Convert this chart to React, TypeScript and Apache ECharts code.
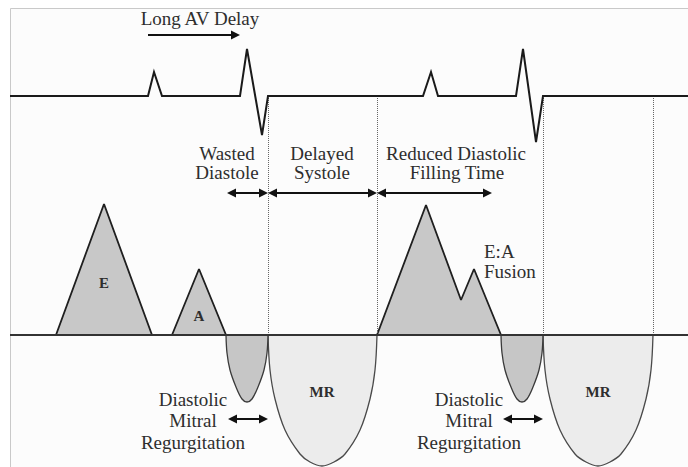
import React, { useEffect, useRef } from "react";
import * as echarts from "echarts";

// ECG trace (x, y in diagram units; y grows downward)
const ecgTrace: [number, number][] = [
  [10, 96], [148, 96], [154, 72], [162, 96], [240, 96], [247, 49], [262, 135], [268, 96],
  [423, 96], [431, 72], [438, 96], [516, 96], [523, 49], [536, 142], [543, 96], [688, 96],
];
const dopplerBaseline: [number, number][] = [[10, 335], [688, 335]];
const baselineLevel = 335;

// Doppler mitral inflow waves
const eWave: [number, number][] = [[56, 335], [104, 204], [152, 335]];
const aWave: [number, number][] = [[172, 335], [199, 269], [226, 335]];
const eaFusion: [number, number][] = [[377, 335], [426, 205], [461, 300], [474, 269], [501, 335]];

// Regurgitant jets (below baseline)
const diastolicMR1: [number, number][] = [
  [226, 335], [227, 353], [230, 370], [236, 387], [242, 399], [247, 402], [252, 399], [258, 387], [264, 370], [267, 353], [268, 335],
];
const systolicMR1: [number, number][] = [
  [268, 335], [270, 370], [275, 399], [285, 430], [300, 454], [310, 462], [322, 466], [334, 462], [345, 454], [360, 430], [370, 399], [375, 370], [377, 335],
];
const diastolicMR2: [number, number][] = [
  [501, 335], [502, 353], [505, 370], [511, 387], [517, 399], [522, 402], [527, 399], [533, 387], [539, 370], [542, 353], [543, 335],
];
const systolicMR2: [number, number][] = [
  [543, 335], [545, 370], [550, 399], [560, 430], [575, 454], [586, 462], [598, 466], [610, 462], [621, 454], [636, 430], [646, 399], [651, 370], [653, 335],
];

// Timing markers (dotted verticals between the two baselines)
const timingMarkers = [268, 377, 543, 653];
const markerTop = 96;
const markerBottom = 335;

// Interval arrows: [x1, x2, y, double-headed]
const intervalArrows: [number, number, number, boolean][] = [
  [148, 240, 35, false],
  [227, 268, 193, true],
  [268, 377, 193, true],
  [377, 492, 193, true],
  [228, 268, 419, true],
  [503, 543, 419, true],
];

// Text annotations
const annotations: { text: string; x: number; y: number; align: string }[] = [
  { text: "Long AV Delay", x: 200, y: 18, align: "center" },
  { text: "Wasted", x: 227, y: 153, align: "center" },
  { text: "Diastole", x: 227, y: 172, align: "center" },
  { text: "Delayed", x: 322, y: 153, align: "center" },
  { text: "Systole", x: 322, y: 172, align: "center" },
  { text: "Reduced Diastolic", x: 456, y: 153, align: "center" },
  { text: "Filling Time", x: 457, y: 172, align: "center" },
  { text: "E:A", x: 484, y: 251, align: "left" },
  { text: "Fusion", x: 484, y: 271, align: "left" },
  { text: "Diastolic", x: 193, y: 399, align: "center" },
  { text: "Mitral", x: 193, y: 420, align: "center" },
  { text: "Regurgitation", x: 193, y: 442, align: "center" },
  { text: "Diastolic", x: 469, y: 399, align: "center" },
  { text: "Mitral", x: 469, y: 420, align: "center" },
  { text: "Regurgitation", x: 469, y: 442, align: "center" },
];
const waveLabels: { text: string; x: number; y: number }[] = [
  { text: "E", x: 104, y: 283 },
  { text: "A", x: 199, y: 316 },
  { text: "MR", x: 322, y: 392 },
  { text: "MR", x: 598, y: 392 },
];

const SERIF = '"Liberation Serif", "DejaVu Serif", serif';

export default function App() {
  const ref = useRef<HTMLDivElement>(null);

  useEffect(() => {
    if (!ref.current) return;
    const chart = echarts.init(ref.current, null, { renderer: "svg" });

    const shape = (data: [number, number][], fill: string, stroke: string, width: number, smooth: boolean, z: number) => ({
      type: "line",
      data,
      smooth: smooth ? 0.35 : false,
      showSymbol: false,
      symbol: "none",
      z,
      lineStyle: { color: stroke, width },
      areaStyle: { color: fill, opacity: 1, origin: baselineLevel },
      silent: true,
    });

    const head = 4.5;
    const arrowData = intervalArrows.map(([x1, x2, y, dbl]) => [
      { coord: [dbl ? x1 + head : x1, y], symbol: dbl ? "triangle" : "none" },
      { coord: [x2 - head, y], symbol: "triangle" },
    ]);

    const markerData = timingMarkers.map((x) => [
      { coord: [x, markerTop] },
      { coord: [x, markerBottom] },
    ]);

    const graphics: any[] = [
      {
        type: "rect",
        z: -10,
        shape: { x: 10.5, y: 8.5, width: 720, height: 500 },
        style: { fill: "#fcfcfc", stroke: "#c9c9c9", lineWidth: 1 },
        silent: true,
      },
      ...annotations.map((a) => ({
        type: "text",
        z: 50,
        silent: true,
        style: {
          text: a.text,
          x: a.x,
          y: a.y,
          font: `19px ${SERIF}`,
          fill: "#2e2e2e",
          align: a.align,
          textAlign: a.align,
          verticalAlign: "middle",
          textVerticalAlign: "middle",
        },
      })),
      ...waveLabels.map((a) => ({
        type: "text",
        z: 50,
        silent: true,
        style: {
          text: a.text,
          x: a.x,
          y: a.y,
          font: `bold 15px ${SERIF}`,
          fill: "#2e2e2e",
          align: "center",
          textAlign: "center",
          verticalAlign: "middle",
          textVerticalAlign: "middle",
        },
      })),
    ];

    chart.setOption({
      animation: false,
      backgroundColor: "#ffffff",
      grid: { left: 0, right: 0, top: 0, bottom: 0, containLabel: false },
      xAxis: { type: "value", min: 0, max: 688, show: false },
      yAxis: { type: "value", min: 0, max: 467, inverse: true, show: false },
      graphic: graphics,
      series: [
        shape(systolicMR1, "#ececec", "#4a4a4a", 1.3, true, 3),
        shape(systolicMR2, "#ececec", "#4a4a4a", 1.3, true, 3),
        shape(diastolicMR1, "#c6c6c6", "#3a3a3a", 1.3, true, 4),
        shape(diastolicMR2, "#c6c6c6", "#3a3a3a", 1.3, true, 4),
        shape(eWave, "#c8c8c8", "#1f1f1f", 1.8, false, 4),
        shape(aWave, "#c8c8c8", "#1f1f1f", 1.8, false, 4),
        shape(eaFusion, "#c8c8c8", "#1f1f1f", 1.8, false, 4),
        {
          type: "line",
          data: dopplerBaseline,
          symbol: "none",
          z: 6,
          silent: true,
          lineStyle: { color: "#333333", width: 2 },
          markLine: {
            silent: true,
            animation: false,
            symbol: ["none", "none"],
            label: { show: false },
            lineStyle: { color: "#666666", width: 1, type: "dotted" },
            data: markerData,
          },
        },
        {
          type: "line",
          data: ecgTrace,
          symbol: "none",
          z: 6,
          silent: true,
          lineStyle: { color: "#1a1a1a", width: 2, join: "miter" },
          markLine: {
            silent: true,
            animation: false,
            symbol: ["triangle", "triangle"],
            symbolSize: [9, 9],
            label: { show: false },
            lineStyle: { color: "#111111", width: 2, type: "solid" },
            itemStyle: { color: "#111111" },
            data: arrowData,
          },
        },
      ],
    });

    return () => chart.dispose();
  }, []);

  return (
    <div
      ref={ref}
      style={{ position: "fixed", left: 0, top: 0, width: 688, height: 467 }}
    />
  );
}
